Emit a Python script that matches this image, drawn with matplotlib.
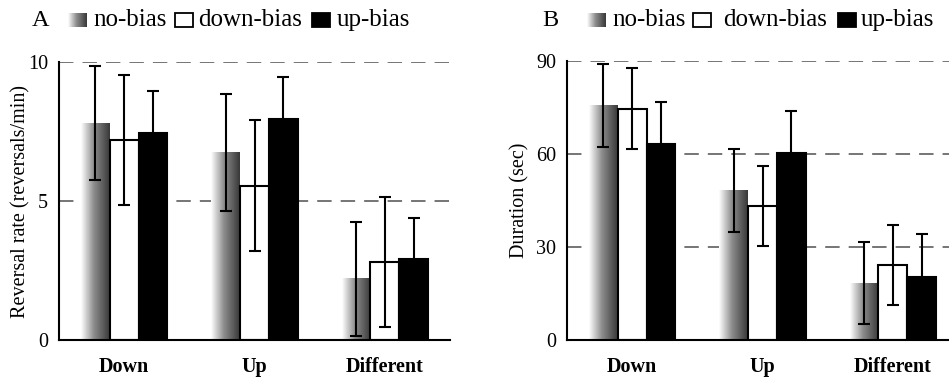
import numpy as np
import matplotlib
matplotlib.use("Agg")
import matplotlib.pyplot as plt
from matplotlib.colors import LinearSegmentedColormap
from matplotlib.patches import Rectangle

plt.rcParams['font.family'] = ['Liberation Serif', 'DejaVu Serif']

groups = ['Down', 'Up', 'Different']
series = ['no-bias', 'down-bias', 'up-bias']

# panel A: reversal rate (reversals/min)
rate_mean = {
    'no-bias':   [7.8, 6.75, 2.2],
    'down-bias': [7.2, 5.55, 2.8],
    'up-bias':   [7.45, 7.95, 2.9],
}
rate_err = {
    'no-bias':   [2.05, 2.1, 2.05],
    'down-bias': [2.35, 2.35, 2.35],
    'up-bias':   [1.5, 1.5, 1.5],
}

# panel B: duration (sec)
dur_mean = {
    'no-bias':   [75.6, 48.3, 18.3],
    'down-bias': [74.5, 43.2, 24.2],
    'up-bias':   [63.2, 60.1, 20.4],
}
dur_err = {
    'no-bias':   [13.4, 13.4, 13.3],
    'down-bias': [13.0, 13.0, 12.9],
    'up-bias':   [13.5, 13.7, 13.6],
}

grad_cmap = LinearSegmentedColormap.from_list(
    'grad', [(0, '#ffffff'), (0.45, '#8c8c8c'), (1, '#383838')])
gradient = np.linspace(0, 1, 256).reshape(1, -1)

width = 0.22
offsets = [-width, 0, width]
SERIF = ['Liberation Serif', 'DejaVu Serif']


def draw_panel(ax, means, errs, ymax, yticks, ylabel, label_x):
    x = np.arange(len(groups))
    for k, s in enumerate(series):
        xs = x + offsets[k]
        if s == 'no-bias':
            for xi, h in zip(xs, means[s]):
                ax.imshow(gradient, cmap=grad_cmap, aspect='auto',
                          extent=[xi - width / 2, xi + width / 2, 0, h],
                          zorder=2, interpolation='bilinear')
        else:
            fc = 'white' if s == 'down-bias' else 'black'
            ax.bar(xs, means[s], width, color=fc, edgecolor='black',
                   linewidth=1.5, zorder=2)
        ax.errorbar(xs, means[s], yerr=errs[s], fmt='none', ecolor='black',
                    elinewidth=1.5, capsize=4.5, capthick=1.5, zorder=3)

    for t in yticks[1:]:
        ax.axhline(t, color='#6a6a6a', lw=1.3, ls=(0, (8, 5)), zorder=1)

    ax.set_xlim(-0.5, 2.5)
    ax.set_ylim(0, ymax)
    ax.set_yticks(yticks)
    ax.set_xticks(x)
    ax.set_xticklabels(groups, fontweight='bold', fontsize=14.5)
    ax.tick_params(axis='y', length=0, pad=8, labelsize=14.5)
    ax.tick_params(axis='x', length=0, pad=12)
    for side in ['top', 'right']:
        ax.spines[side].set_visible(False)
    for side in ['left', 'bottom']:
        ax.spines[side].set_linewidth(1.5)
    ax.set_ylabel(ylabel, fontsize=14.5)
    ax.yaxis.set_label_coords(label_x, 0.5)


fig = plt.figure(figsize=(9.49, 3.8), dpi=100)
W, H = 949.0, 380.0

axA = fig.add_axes([59 / W, 1 - 340 / H, 391 / W, (340 - 62) / H])
draw_panel(axA, rate_mean, rate_err, 10, [0, 5, 10],
           'Reversal rate (reversals/min)', -0.074)

axB = fig.add_axes([567 / W, 1 - 340 / H, 391 / W, (340 - 60.7) / H])
draw_panel(axB, dur_mean, dur_err, 90, [0, 30, 60, 90],
           'Duration (sec)', -0.095)


def legend_row(letter, x_letter, x_grad, x_white, x_black, texts_x):
    yc = 1 - 20 / H
    fig.text(x_letter / W, yc, letter, fontsize=17.5, va='center', ha='left',
             family=SERIF)
    # gradient swatch
    sw = fig.add_axes([x_grad / W, 1 - 27 / H, 19 / W, 14 / H])
    sw.imshow(gradient, cmap=grad_cmap, aspect='auto', interpolation='bilinear')
    sw.axis('off')
    fig.patches.append(Rectangle((x_white / W, 1 - 27 / H), 18 / W, 14 / H,
                                 transform=fig.transFigure, facecolor='white',
                                 edgecolor='black', linewidth=1.3))
    fig.patches.append(Rectangle((x_black / W, 1 - 27 / H), 18 / W, 14 / H,
                                 transform=fig.transFigure, facecolor='black',
                                 edgecolor='black', linewidth=1.3))
    for s, tx in zip(series, texts_x):
        fig.text(tx / W, yc, s, fontsize=18, va='center', ha='left',
                 family=SERIF)


legend_row('A', 32, 68, 175, 312, [93, 198, 337])
legend_row('B', 542, 587, 693, 838, [612, 723, 861])

fig.savefig('out.png', dpi=100)
